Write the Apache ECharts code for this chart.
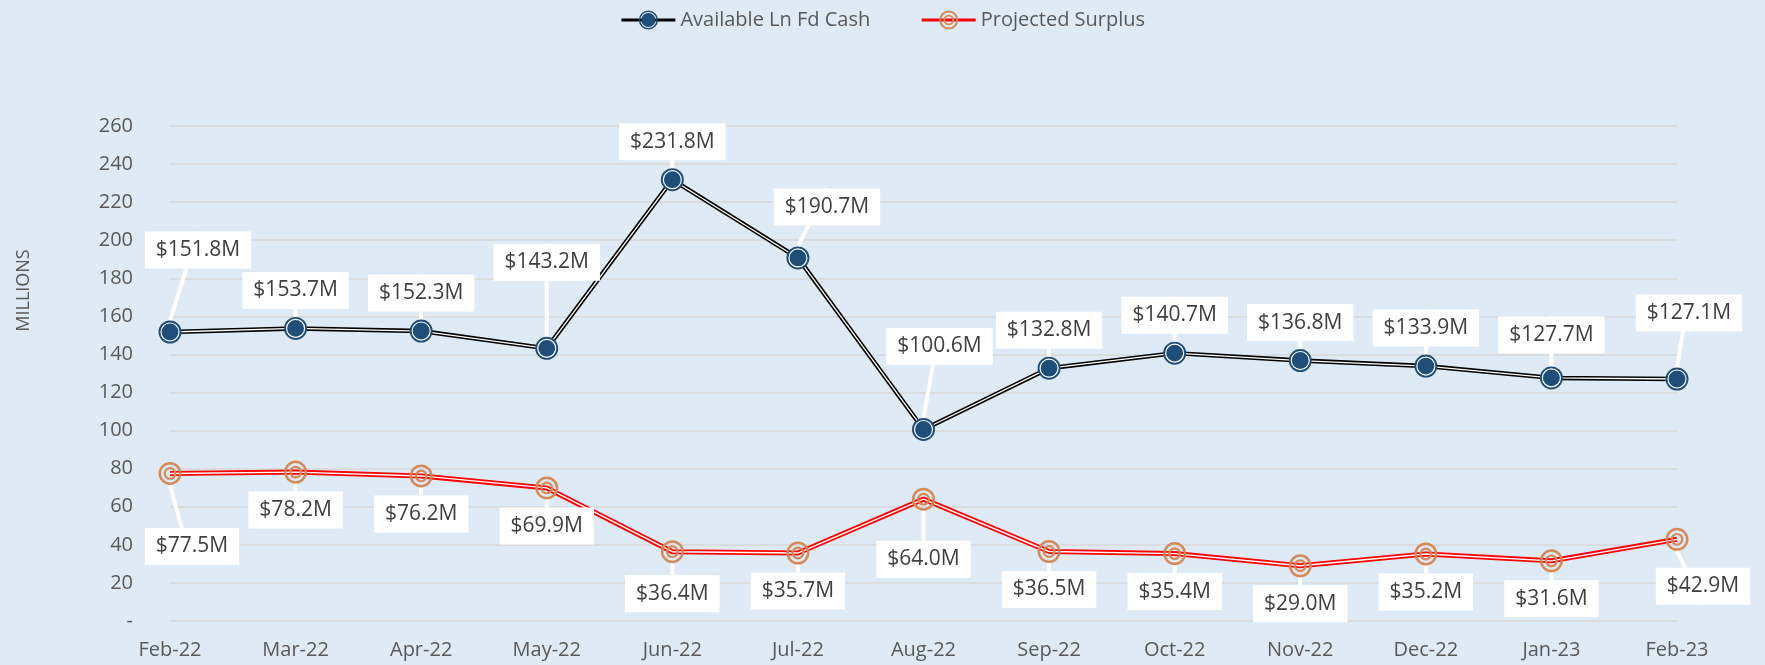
<!DOCTYPE html>
<html>
<head>
<meta charset="utf-8">
<script src="https://cdn.jsdelivr.net/npm/echarts@6/dist/echarts.min.js"></script>
<style>
  html, body { margin: 0; padding: 0; background: #DEEAF6; }
  #chart { width: 1765px; height: 665px; }
</style>
</head>
<body>
<div id="chart"></div>
<script>
const months = ['Feb-22', 'Mar-22', 'Apr-22', 'May-22', 'Jun-22', 'Jul-22', 'Aug-22',
  'Sep-22', 'Oct-22', 'Nov-22', 'Dec-22', 'Jan-23', 'Feb-23']
const cashData = [151.8, 153.7, 152.3, 143.2, 231.8, 190.7, 100.6, 132.8, 140.7, 136.8, 133.9, 127.7, 127.1]
const surplusData = [77.5, 78.2, 76.2, 69.9, 36.4, 35.7, 64.0, 36.5, 35.4, 29.0, 35.2, 31.6, 42.9]

// callout nudges (px) for labels that sit away from the default spot
const cashCallout = { 0: [28, -44], 3: [0, -48], 5: [29, -13], 6: [16, -45], 11: [0, -5], 12: [12, -28] }
const surplusCallout = { 0: [22, 35], 4: [0, 4], 6: [0, 22], 12: [26, 9] }

const font = 'Open Sans'
const textGrey = '#595959'

// blue disc with a thin inner gap ring
const blueDot = 'path://M12 0A12 12 0 1 1 12 24A12 12 0 1 1 12 0Z' +
  'M12 2A10 10 0 1 0 12 22A10 10 0 1 0 12 2Z' +
  'M12 3.2A8.8 8.8 0 1 1 12 20.8A8.8 8.8 0 1 1 12 3.2Z'
// orange target: two rings
const orangeTarget = 'path://M12 0A12 12 0 1 1 12 24A12 12 0 1 1 12 0Z' +
  'M12 2.6A9.4 9.4 0 1 0 12 21.4A9.4 9.4 0 1 0 12 2.6Z' +
  'M12 5.3A6.7 6.7 0 1 1 12 18.7A6.7 6.7 0 1 1 12 5.3Z' +
  'M12 7.6A4.4 4.4 0 1 0 12 16.4A4.4 4.4 0 1 0 12 7.6Z'

function money (p) {
  return '$' + p.value.toFixed(1) + 'M'
}

function calloutLabel (pos) {
  return {
    show: true,
    position: pos,
    distance: 8,
    formatter: money,
    backgroundColor: '#fff',
    padding: [7, 11],
    color: '#404040',
    fontFamily: font,
    fontSize: 21,
    lineHeight: 23
  }
}

const chart = echarts.init(document.getElementById('chart'))

const option = {
  backgroundColor: '#DEEAF6',
  textStyle: { fontFamily: font },
  legend: {
    top: 5,
    left: 'center',
    itemWidth: 54,
    itemHeight: 24,
    itemGap: 50,
    textStyle: { color: textGrey, fontSize: 20, fontFamily: font },
    data: [
      { name: 'Available Ln Fd Cash', lineStyle: { color: '#000', width: 3 } },
      { name: 'Projected Surplus', lineStyle: { color: '#ff0000', width: 3 } }
    ]
  },
  grid: { left: 170, right: 88, top: 126, bottom: 44 },
  xAxis: {
    type: 'category',
    data: months,
    boundaryGap: false,
    axisLine: { show: false },
    axisTick: { show: false },
    axisLabel: { color: textGrey, fontSize: 20, fontFamily: font, margin: 19 }
  },
  yAxis: {
    type: 'value',
    min: 0,
    max: 260,
    interval: 20,
    name: 'MILLIONS',
    nameLocation: 'middle',
    nameGap: 137,
    nameTextStyle: { color: textGrey, fontSize: 18, fontFamily: font, padding: [0, 0, 0, 166] },
    axisLine: { show: false },
    axisTick: { show: false },
    axisLabel: {
      color: textGrey,
      fontSize: 20,
      fontFamily: font,
      margin: 37,
      formatter: v => (v === 0 ? '-' : v)
    },
    splitLine: { lineStyle: { color: '#D9D9D9', width: 1.5 } }
  },
  series: [
    {
      name: 'cash-outline',
      type: 'line',
      data: cashData,
      silent: true,
      z: 2,
      symbol: 'circle',
      symbolSize: 20,
      itemStyle: { color: '#fff' },
      lineStyle: { color: '#000', width: 4.5 }
    },
    {
      name: 'Available Ln Fd Cash',
      type: 'line',
      data: cashData,
      z: 3,
      symbol: blueDot,
      symbolSize: 23,
      itemStyle: { color: '#1F4E79' },
      lineStyle: { color: '#fff', width: 1.3 },
      label: calloutLabel('top'),
      labelLine: { show: true, lineStyle: { color: '#fff', width: 4 } },
      labelLayout: p => {
        const s = cashCallout[p.dataIndex]
        return s ? { dx: s[0], dy: s[1] } : {}
      }
    },
    {
      name: 'surplus-outline',
      type: 'line',
      data: surplusData,
      silent: true,
      z: 2,
      symbol: 'none',
      lineStyle: { color: '#ff0000', width: 5 }
    },
    {
      name: 'Projected Surplus',
      type: 'line',
      data: surplusData,
      z: 3,
      symbol: orangeTarget,
      symbolSize: 23,
      itemStyle: { color: '#D68A57' },
      lineStyle: { color: '#fff', width: 1.4 },
      label: calloutLabel('bottom'),
      labelLine: { show: true, lineStyle: { color: '#fff', width: 4 } },
      labelLayout: p => {
        const s = surplusCallout[p.dataIndex]
        return s ? { dx: s[0], dy: s[1] } : {}
      }
    }
  ]
}

chart.setOption(option)
</script>
</body>
</html>
